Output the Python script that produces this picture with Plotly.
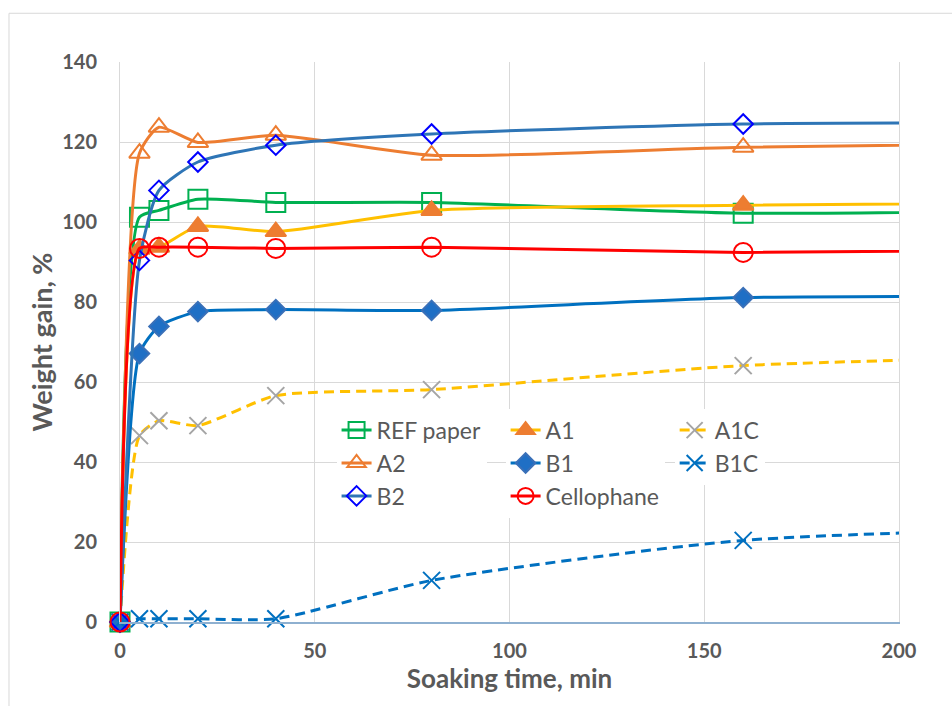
import plotly.graph_objects as go

# Soaking time (min); 320 lies beyond the visible axis range (line continues to the edge)
time = [0, 5, 10, 20, 40, 80, 160, 320]

ref_paper = [0, 101.2, 102.9, 105.7, 104.9, 104.9, 102.2, 104.2]
a1 = [0, 93.2, 93.7, 98.9, 97.6, 102.9, 104.2, 105.4]
a1c = [0, 46.6, 50.3, 49.1, 56.6, 58.1, 64.1, 68.1]
a2 = [0, 117.2, 123.7, 119.9, 121.7, 116.7, 118.7, 120.7]
b1 = [0, 67.1, 73.9, 77.6, 78.1, 77.9, 81.1, 81.3]
b1c = [0, 0.8, 0.8, 0.8, 0.8, 10.4, 20.4, 25.3]
b2 = [0, 90.4, 107.9, 115.0, 119.2, 122.0, 124.5, 124.6]
cellophane = [0, 93.4, 93.7, 93.7, 93.4, 93.7, 92.4, 93.6]

x_ticks = [0, 50, 100, 150, 200]
y_ticks = [0, 20, 40, 60, 80, 100, 120, 140]

FONT = "Lato"
GREY = "#595959"

series = [
    # name, values, line colour, dash, symbol, marker fill, marker line colour, size, legend
    ("REF paper", ref_paper, "#00b050", "solid", "square-open", "#00b050", "#00b050", 19, "legend"),
    ("A1", a1, "#ffc000", "solid", "triangle-up", "#ed7d31", "#ed7d31", 18, "legend2"),
    ("A1C", a1c, "#ffc000", "10px,6px", "x-thin-open", "#a5a5a5", "#a5a5a5", 17, "legend3"),
    ("A2", a2, "#ed7d31", "solid", "triangle-up-open", "#ed7d31", "#ed7d31", 18, "legend"),
    ("B1", b1, "#0070c0", "solid", "diamond", "#1f6fc5", "#3a70b8", 15, "legend2"),
    ("B1C", b1c, "#0070c0", "10px,6px", "x-thin-open", "#0070c0", "#0070c0", 17, "legend3"),
    ("B2", b2, "#2e75b6", "solid", "diamond-open", "#0000ff", "#0000ff", 15, "legend"),
    ("Cellophane", cellophane, "#ff0000", "solid", "circle-open", "#ff0000", "#ff0000", 19, "legend2"),
]

fig = go.Figure()
for name, vals, lc, dash, sym, mfill, mline, size, leg in series:
    fig.add_trace(go.Scatter(
        x=time, y=vals, name=name, mode="lines+markers",
        line=dict(color=lc, width=3, dash=dash, shape="spline", smoothing=0.6),
        marker=dict(symbol=sym, size=size, color=mfill,
                    line=dict(color=mline, width=2)),
        legend=leg, cliponaxis=False,
    ))

legend_common = dict(
    font=dict(family=FONT, size=23, color=GREY),
    bgcolor="rgba(255,255,255,1)",
    borderwidth=0,
    orientation="v",
    xanchor="left",
    yanchor="top",
    tracegroupgap=0,
    itemwidth=30,
)

fig.update_layout(
    width=952,
    height=706,
    margin=dict(l=120, r=53, t=62, b=84),
    paper_bgcolor="white",
    plot_bgcolor="white",
    font=dict(family=FONT, color=GREY),
    legend=dict(**legend_common, x=0.278, y=0.381),
    legend2=dict(**legend_common, x=0.495, y=0.381),
    legend3=dict(**legend_common, x=0.712, y=0.381),
    xaxis=dict(
        range=[0, 200], tickvals=x_ticks, showgrid=True, gridcolor="#d9d9d9", gridwidth=1,
        zeroline=False, showline=True, linecolor="#8eb0d0", linewidth=1.5,
        ticks="", ticklabelstandoff=10,
        tickfont=dict(family=FONT, size=20, color=GREY, weight="bold"),
        title=dict(text="Soaking time, min", standoff=7,
                   font=dict(family=FONT, size=26, color=GREY, weight="bold")),
    ),
    yaxis=dict(
        range=[0, 140], tickvals=y_ticks, showgrid=True, gridcolor="#d9d9d9", gridwidth=1,
        zeroline=False, showline=True, linecolor="#d9d9d9", mirror=True,
        ticks="", ticklabelstandoff=18,
        tickfont=dict(family=FONT, size=20, color=GREY, weight="bold"),
        title=dict(text="Weight gain, %", standoff=1,
                   font=dict(family=FONT, size=27, color=GREY, weight="bold")),
    ),
    shapes=[dict(type="rect", xref="paper", yref="paper",
                 x0=-0.1425, y0=-0.3, x1=1.3, y1=1.087,
                 line=dict(color="#d9d9d9", width=1), fillcolor="rgba(0,0,0,0)",
                 layer="below")],
)

fig.write_html("out.html")
